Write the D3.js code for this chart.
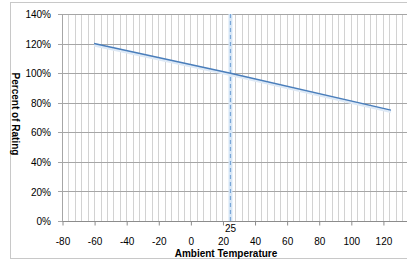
<!DOCTYPE html>
<html>
<head>
<meta charset="utf-8">
<script src="https://cdn.jsdelivr.net/npm/d3@7"></script>
<style>
  body { margin: 0; background: #fff; }
  text { font-family: "Liberation Sans", Arial, sans-serif; }
</style>
</head>
<body>
<svg id="chart" width="407" height="267"></svg>
<script>
// derating curve
const temps = [-60, 25, 125];
const ratings = [120, 100, 75];
const refTemp = 25;
const xTicks = [-80, -60, -40, -20, 0, 20, 40, 60, 80, 100, 120];
const yTicks = [0, 20, 40, 60, 80, 100, 120, 140];

const svg = d3.select("#chart");
const W = 407, H = 267;

// outer chart frame (runs off the right edge like the source image)
svg.append("rect")
  .attr("x", 10.5).attr("y", 2.5)
  .attr("width", 420).attr("height", 256)
  .attr("fill", "#fff").attr("stroke", "#c8c8c8");

const x = d3.scaleLinear().domain([-80, 140]).range([62, 415]);
const y = d3.scaleLinear().domain([0, 140]).range([221, 14]);

// minor vertical grid, every 4 degrees
const minor = d3.range(-80, 141, 4);
svg.append("g").selectAll("line").data(minor).join("line")
  .attr("x1", d => Math.round(x(d)) + 0.5).attr("x2", d => Math.round(x(d)) + 0.5)
  .attr("y1", y(140)).attr("y2", y(0))
  .attr("stroke", "#d2d2d2").attr("stroke-width", 1);

// horizontal grid
svg.append("g").selectAll("line").data(yTicks).join("line")
  .attr("x1", x(-80) - 4).attr("x2", W + 10)
  .attr("y1", d => Math.round(y(d)) + 0.5).attr("y2", d => Math.round(y(d)) + 0.5)
  .attr("stroke", "#a6a6a6");

// y axis line
svg.append("line")
  .attr("x1", Math.round(x(-80)) + 0.5).attr("x2", Math.round(x(-80)) + 0.5)
  .attr("y1", y(140)).attr("y2", y(0))
  .attr("stroke", "#a6a6a6");

// x axis
const xAxis = d3.axisBottom(x).tickValues(xTicks).tickSize(4).tickPadding(12)
  .tickFormat(d3.format("d"));
const gx = svg.append("g").attr("transform", `translate(0.5,${Math.round(y(0)) + 0.5})`).call(xAxis);
gx.select(".domain").attr("stroke", "#8c8c8c").attr("d", `M${x(-80)},0H${W + 10}`);
gx.selectAll(".tick line").attr("stroke", "#8c8c8c");
gx.selectAll("text").attr("font-size", 10).attr("fill", "#000")
  .text(d => d < 0 ? "-" + Math.abs(d) : d);

// y axis labels
const yAxis = d3.axisLeft(y).tickValues(yTicks).tickSize(0).tickPadding(11)
  .tickFormat(d => d + "%");
const gy = svg.append("g").attr("transform", `translate(${x(-80)},0.5)`).call(yAxis);
gy.select(".domain").remove();
gy.selectAll("text").attr("font-size", 10).attr("fill", "#000");

// reference temperature marker
svg.append("line")
  .attr("x1", x(refTemp)).attr("x2", x(refTemp))
  .attr("y1", y(140)).attr("y2", y(0))
  .attr("stroke", "#d6e6f6").attr("stroke-width", 4);
svg.append("line")
  .attr("x1", x(refTemp)).attr("x2", x(refTemp))
  .attr("y1", y(140)).attr("y2", y(0))
  .attr("stroke", "#7aa7d8").attr("stroke-width", 1.2)
  .attr("stroke-dasharray", "4,3");
svg.append("text")
  .attr("x", x(refTemp)).attr("y", 232)
  .attr("text-anchor", "middle").attr("font-size", 10)
  .text(refTemp);

// rating line with soft shadow
const pts = temps.map((t, i) => [t, ratings[i]]);
const line = d3.line().x(d => x(d[0])).y(d => y(d[1]));
svg.append("path").datum(pts)
  .attr("d", line).attr("fill", "none")
  .attr("stroke", "#dde9f6").attr("stroke-width", 3)
  .attr("transform", "translate(0,1.5)");
svg.append("path").datum(pts)
  .attr("d", line).attr("fill", "none")
  .attr("stroke", "#4a7ebb").attr("stroke-width", 1.5);

// axis titles
svg.append("text")
  .attr("x", 226).attr("y", 257)
  .attr("text-anchor", "middle").attr("font-size", 10).attr("font-weight", "bold")
  .text("Ambient Temperature");
svg.append("text")
  .attr("transform", `translate(12,114) rotate(90)`)
  .attr("text-anchor", "middle").attr("font-size", 10).attr("font-weight", "bold")
  .text("Percent of Rating");
</script>
</body>
</html>
